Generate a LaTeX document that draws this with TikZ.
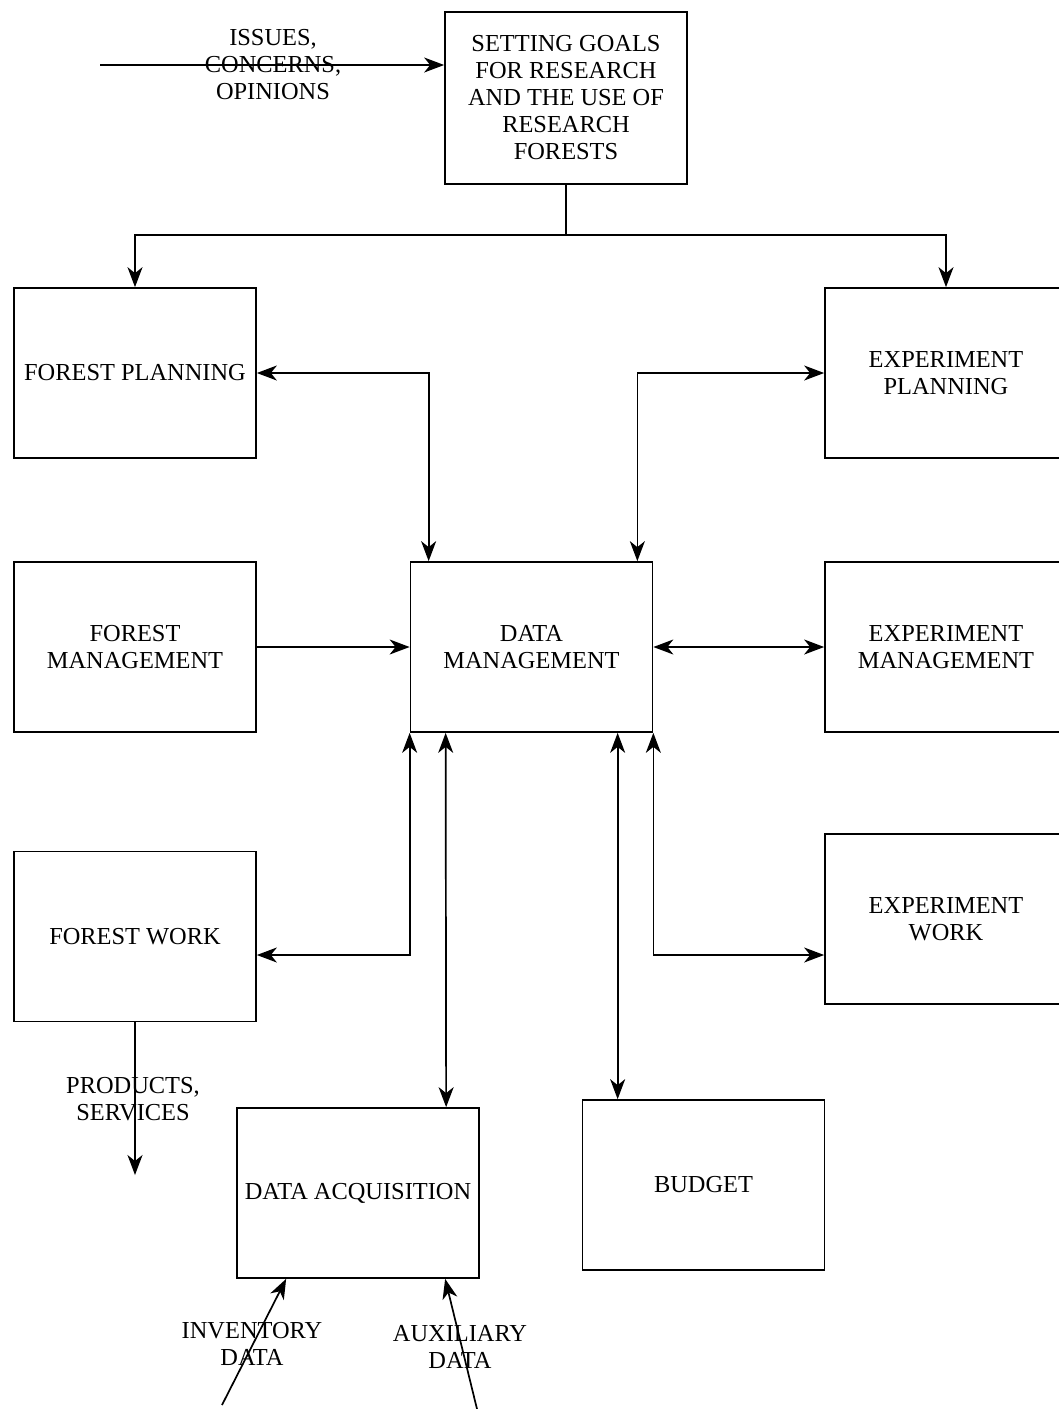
\documentclass[tikz,border=0pt]{standalone}
\usepackage{fontspec}
\setmainfont{Liberation Serif}
\usetikzlibrary{arrows.meta,calc}
\begin{document}
\begin{tikzpicture}[x=0.5pt,y=-0.5pt,
  line width=0.85pt,
  txt/.style={font={\fontsize{12.2}{13.5}\selectfont}, align=center, inner sep=0pt},
  box/.style={txt, draw, minimum width=121pt, minimum height=85pt},
  tip/.style={Stealth[length=10pt,width=7.5pt,inset=3pt]},
  arr/.style={-{Stealth[length=10pt,width=7.5pt,inset=3pt]}},
  darr/.style={{Stealth[length=10pt,width=7.5pt,inset=3pt]}-{Stealth[length=10pt,width=7.5pt,inset=3pt]}}]
\useasboundingbox (0,0) rectangle (1059,1409);
\clip (0,0) rectangle (1059,1409);

% boxes
\node[box, minimum height=86pt] (goals) at (566,98) {SETTING GOALS\\FOR RESEARCH\\AND THE USE OF\\RESEARCH\\FORESTS};
\node[box] (fp) at (135,373) {FOREST PLANNING};
\node[box] (ep) at (946,373) {EXPERIMENT\\PLANNING};
\node[box] (fm) at (135,647) {FOREST\\MANAGEMENT};
\node[box] (dm) at (531.5,647) {DATA\\MANAGEMENT};
\node[box] (em) at (946,647) {EXPERIMENT\\MANAGEMENT};
\node[box] (fw) at (135,936.5) {FOREST WORK};
\node[box] (ew) at (946,919) {EXPERIMENT\\WORK};
\node[box] (da) at (358,1193) {DATA ACQUISITION};
\node[box] (bu) at (703.5,1185) {BUDGET};

% incoming issues
\coordinate (issuesin) at (100,65);
\draw[arr] (issuesin) -- (issuesin -| goals.west);
\node[txt] (issues) at (273,65) {ISSUES,\\CONCERNS,\\OPINIONS};

% distribution from goal setting
\coordinate (split) at (566,235);
\draw (goals.south) -- (split);
\draw[arr] (split) -| (fp.north);
\draw[arr] (split) -| (ep.north);

% links with data management
\draw[darr] (fp.east) -| ($(dm.north west)+(19,0)$);
\draw[darr] (ep.west) -| ($(dm.north east)+(-16,0)$);
\draw[arr] (fm) -- (dm);
\draw[darr] (dm) -- (em);
\draw[darr] (dm.south west) |- ($(fw.east)+(0,18.5)$);
\draw[darr] (dm.south east) |- ($(ew.west)+(0,36)$);
\draw[darr] ($(dm.south west)+(36,0)$) -- ($(da.north west)+(210,0)$);
\draw[darr] ($(dm.south west)+(208,0)$) -- ($(bu.north west)+(36,0)$);

% outputs of forest work
\coordinate (prodout) at (135,1175);
\draw[arr] (fw.south) -- (prodout);
\node[txt] (prod) at (133,1099) {PRODUCTS,\\SERVICES};

% inputs to data acquisition
\coordinate (invin) at (222,1405);
\draw[arr] (invin) -- ($(da.south west)+(50,0)$);
\node[txt] (inv) at (252,1344) {INVENTORY\\DATA};
\coordinate (auxin) at (477,1409);
\draw[arr] (auxin) -- ($(da.south west)+(209,0)$);
\node[txt] (aux) at (460,1347) {AUXILIARY\\DATA};
\end{tikzpicture}
\end{document}
